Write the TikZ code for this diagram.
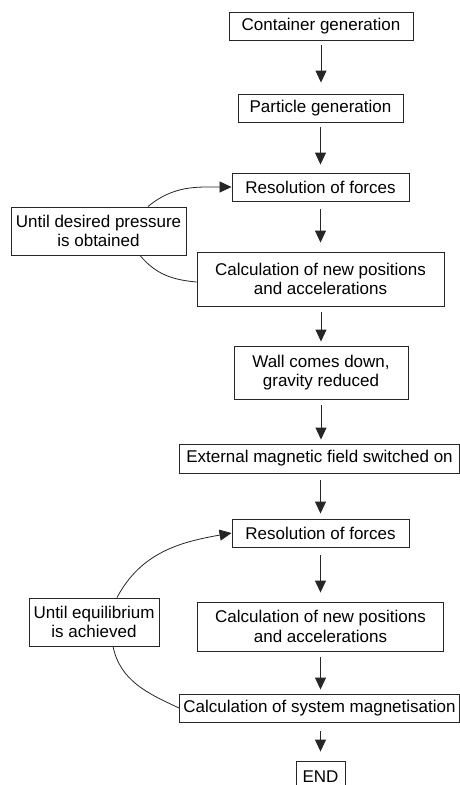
\documentclass[tikz,border=0pt]{standalone}
\usepackage{fontspec}
\setmainfont{Liberation Sans}
\usetikzlibrary{arrows.meta,calc}
\begin{document}
\begin{tikzpicture}[x=1pt,y=-1pt,
  box/.style={draw=black!85, line width=0.9pt, inner sep=0pt, align=center,
    font=\fontsize{17}{19.5}\selectfont},
  arr/.style={draw=black!85, line width=0.9pt, -{Triangle[length=12pt,width=11pt]}},
  link/.style={draw=black!85, line width=0.8pt}]
\clip (0,0) rectangle (460,785);
\fill[white] (0,0) rectangle (460,785);
\node[box, minimum width=184pt, minimum height=28pt] (cont) at (321,26) {Container generation};
\node[box, minimum width=165pt, minimum height=28pt] (part) at (320.5,108) {Particle generation};
\node[box, minimum width=177pt, minimum height=28pt] (res1) at (320.5,187) {Resolution of forces};
\node[box, minimum width=247pt, minimum height=54pt] (calc1) at (320.5,279) {Calculation of new positions\\and accelerations};
\node[box, minimum width=174pt, minimum height=53pt] (wall) at (321,372.5) {Wall comes down,\\gravity reduced};
\node[box, minimum width=280pt, minimum height=29pt] (ext) at (319.5,458.5) {External magnetic field switched on};
\node[box, minimum width=177pt, minimum height=28pt] (res2) at (320.5,533) {Resolution of forces};
\node[box, minimum width=246pt, minimum height=49pt] (calc2) at (320.5,626.5) {Calculation of new positions\\and accelerations};
\node[box, minimum width=280pt, minimum height=28pt] (mag) at (319.5,708) {Calculation of system magnetisation};
\node[box, minimum width=49pt, minimum height=31pt] (fin) at (320.5,776.5) {END};
\node[box, minimum width=175pt, minimum height=48pt] (untA) at (98.5,231) {Until desired pressure\\is obtained};
\node[box, minimum width=130pt, minimum height=48pt] (untB) at (94,622) {Until equilibrium\\is achieved};
% vertical arrows
\draw[arr, shorten <=5pt, shorten >=11pt] (cont.south) -- (cont.south |- part.north);
\draw[arr, shorten <=5pt, shorten >=8pt] (part.south) -- (part.south |- res1.north);
\draw[arr, shorten <=8pt, shorten >=9pt] (res1.south) -- (calc1.north);
\draw[arr, shorten <=6pt, shorten >=4pt] (wall.north |- calc1.south) -- (wall.north);
\draw[arr, shorten <=6pt, shorten >=4pt] (wall.south) -- (wall.south |- ext.north);
\draw[arr, shorten <=7pt, shorten >=5pt] (res2.north |- ext.south) -- (res2.north);
\draw[arr, shorten <=8pt, shorten >=9pt] (res2.south) -- (calc2.north);
\draw[arr, shorten <=6pt, shorten >=4pt] (calc2.south) -- (calc2.south |- mag.north);
\draw[arr, shorten <=9pt, shorten >=9pt] (fin.north |- mag.south) -- (fin.north);
% loops
\draw[arr, line width=0.8pt] ($(untA.north)+(49.5,0)$) to[out=40,in=180] (res1.west);
\draw[link] ($(untA.south)+(41.5,0)$) to[out=-50,in=175] ($(calc1.west)+(0,3)$);
\draw[arr, line width=0.8pt] ($(untB.north)+(23,0)$) to[out=62,in=190] (res2.west);
\draw[link] ($(untB.south)+(19,0)$) to[out=-78,in=155] (mag.west);
\end{tikzpicture}
\end{document}
